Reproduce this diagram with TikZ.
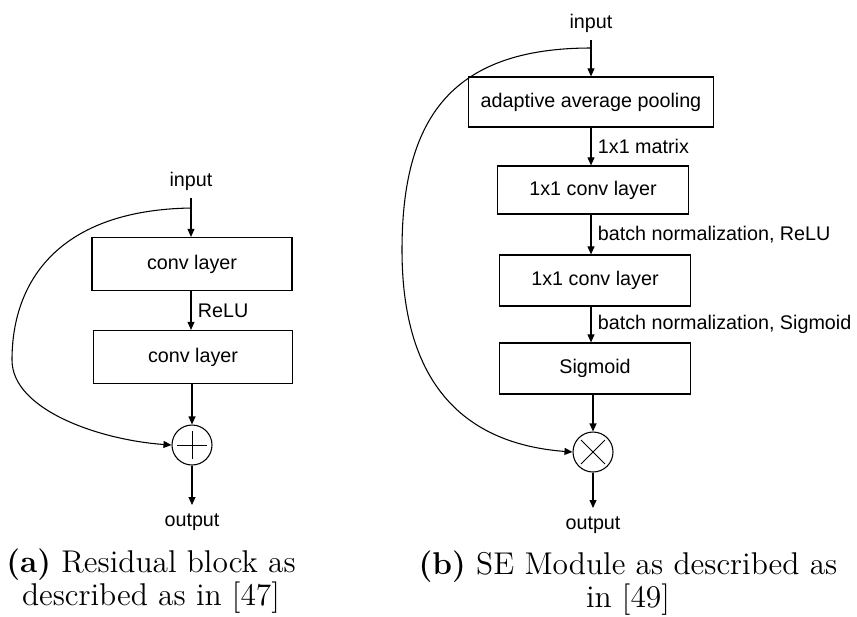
\documentclass[tikz,border=0pt]{standalone}
\usepackage{fontspec}
\newfontfamily\arialish{Liberation Sans}
\usetikzlibrary{arrows.meta}
\begin{document}
\begin{tikzpicture}[x=0.375pt,y=-0.375pt,
  lbl/.style={font=\arialish\fontsize{7.4}{9}\selectfont},
  box/.style={lbl,draw,line width=0.45pt,minimum height=50*0.375pt,inner sep=0pt},
  arr/.style={line width=0.4pt,-{Triangle[length=3pt,width=2.6pt]}},
  opnode/.style={draw,circle,line width=0.4pt,minimum size=40*0.375pt,inner sep=0pt},
  opline/.style={line width=0.3pt},
  elabel/.style={lbl,anchor=west,inner sep=0pt,xshift=2.4pt},
  captext/.style={font=\fontsize{11.8}{12.4}\selectfont,align=center,inner sep=0pt}]
\useasboundingbox (0,0) rectangle (857,616);

% ---------- (a) residual block ----------
\node[lbl,anchor=south,inner sep=0pt,minimum height=0pt] (ina) at (191,198) {\raisebox{4pt}{input}};
\node[box,minimum width=200*0.375pt,minimum height=53*0.375pt] (ca1) at (192,264) {conv layer};
\node[box,minimum width=199*0.375pt,minimum height=53*0.375pt] (ca2) at (193,357) {conv layer};
\node[opnode] (plus) at (192,445) {};
\draw[opline] (plus.center) ++(-15,0) -- ++(30,0);
\draw[opline] (plus.center) ++(0,-14) -- ++(0,28);
\node[lbl,anchor=north,inner sep=0pt] (outa) at (192,513) {output};
\coordinate (ka) at (191,208);
\coordinate (outatip) at (192,505);

\draw[arr] (ina.south) -- (ca1.north -| ina.south);
\draw[arr] (ca1.south -| ina.south) -- node[elabel] {ReLU} (ca2.north -| ina.south);
\draw[arr] (ca2.south -| plus.north) -- (plus.north);
\draw[arr] (plus.south) -- (outatip);
\draw[arr] (ka) .. controls (60,210) and (12,280) .. (12,360)
  .. controls (12,410) and (100,440) .. (plus.west);

\node[captext] (capa) at (151,581) {\textbf{(a)} Residual block as\\described as in [47]};

% ---------- (b) SE module ----------
\node[lbl,anchor=south,inner sep=0pt] (inb) at (591,40) {\raisebox{4pt}{input}};
\node[box,minimum width=245*0.375pt] (aap) at (591,102) {adaptive average pooling};
\node[box,minimum width=191*0.375pt,minimum height=48*0.375pt] (cv1) at (593,190) {1x1 conv layer};
\node[box,minimum width=191*0.375pt,minimum height=51*0.375pt] (cv2) at (595,280.5) {1x1 conv layer};
\node[box,minimum width=191*0.375pt,minimum height=51*0.375pt] (sig) at (595,368.5) {Sigmoid};
\node[opnode] (times) at (593,452) {};
\draw[opline] (times.center) ++(-12,-12) -- ++(24,24);
\draw[opline] (times.center) ++(-12,12) -- ++(24,-24);
\node[lbl,anchor=north,inner sep=0pt] (outb) at (593,516) {output};
\coordinate (kb) at (591,48);
\coordinate (outbtip) at (593,508);

\draw[arr] (inb.south) -- (aap.north -| inb.south);
\draw[arr] (aap.south -| inb.south) -- node[elabel] {1x1 matrix} (cv1.north -| inb.south);
\draw[arr] (cv1.south -| inb.south) -- node[elabel] {batch normalization, ReLU} (cv2.north -| inb.south);
\draw[arr] (cv2.south -| inb.south) -- node[elabel] {batch normalization, Sigmoid} (sig.north -| inb.south);
\draw[arr] (sig.south -| times.north) -- (times.north);
\draw[arr] (times.south) -- (outbtip);
\draw[arr] (kb) .. controls (450,48) and (402,120) .. (402,250)
  .. controls (402,400) and (480,445) .. (times.west);

\node[captext] (capb) at (628,583) {\textbf{(b)} SE Module as described as\\in [49]};
\end{tikzpicture}
\end{document}
